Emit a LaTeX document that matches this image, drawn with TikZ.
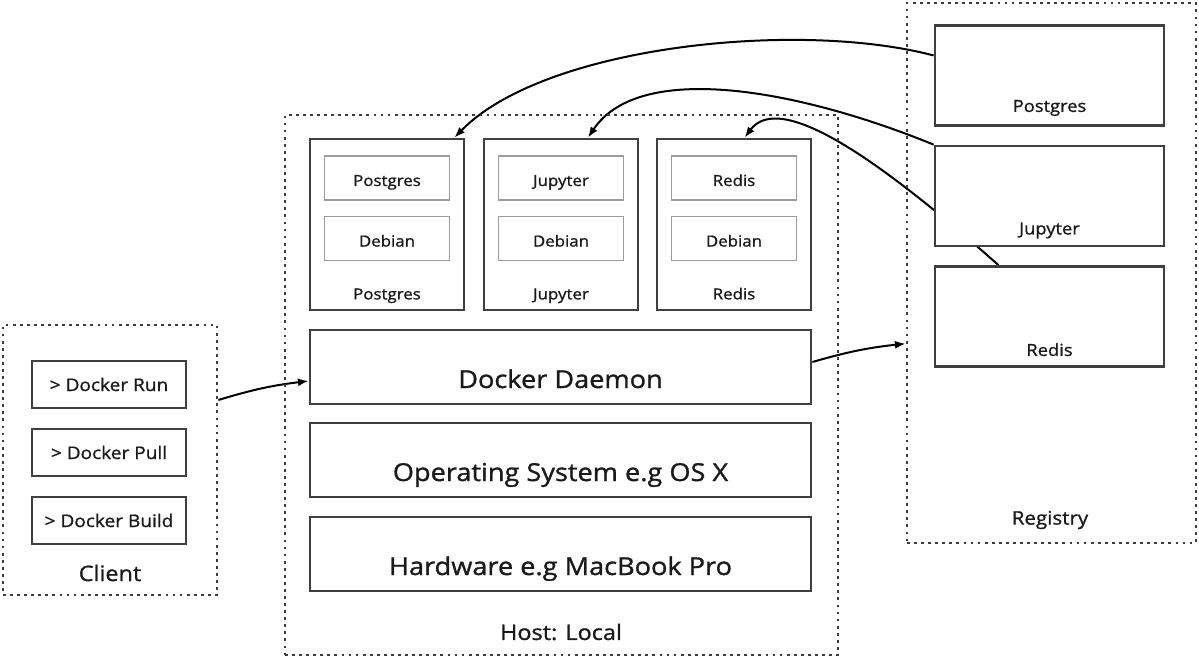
\documentclass[tikz,border=0pt]{standalone}
\usepackage{fontspec}
\setmainfont{Open Sans}[FakeStretch=1.1, FakeBold=1.1]
\usetikzlibrary{positioning,arrows.meta}
\definecolor{boxgray}{HTML}{404040}
\definecolor{ingray}{HTML}{9C9C9C}
\definecolor{dotgray}{HTML}{3C3C3C}
\definecolor{txt}{HTML}{1A1A1A}
\pgfdeclarelayer{bg}
\pgfsetlayers{bg,main}
\tikzset{
    dotbox/.style={draw=dotgray, line width=2.1pt, dash pattern=on 2.1pt off 3.2pt, inner sep=0},
    box/.style={draw=boxgray, line width=2.1pt, fill=white, inner sep=0, text=txt},
    inbox/.style={draw=ingray, line width=1.2pt, inner sep=0, text=txt,
        minimum width=93.75pt, minimum height=33pt, text height=12pt, text depth=0pt,
        font=\fontsize{11.5}{13}\selectfont},
    cmdbox/.style={box, minimum width=115.5pt, minimum height=35.25pt, font=\fontsize{13}{15}\selectfont},
    cbox/.style={box, minimum width=115.5pt, minimum height=128.25pt},
    layer/.style={box, minimum width=375.75pt, minimum height=55.5pt,
        text height=31.5pt, text depth=0pt, font=\fontsize{18.5}{21}\selectfont},
    regbox/.style={box, minimum width=171.75pt, minimum height=75pt},
    lbl/.style={text=txt, font=\fontsize{11.5}{13}\selectfont, inner sep=0, anchor=base},
    biglbl/.style={text=txt, font=\fontsize{16}{18}\selectfont, inner sep=0},
    flow/.style={->, line width=1.5pt}
}
\begin{document}
\begin{tikzpicture}[x=0.75pt,y=-0.75pt,>={Latex[length=8pt,width=6pt]}]
    \useasboundingbox (0,0) rectangle (1199,659);

    % client
    \node [dotbox, minimum width=160.5pt, minimum height=202.5pt] (client) at (110,460) {};
    \node [cmdbox] (run) at (109,384.5) {> Docker Run};
    \node [cmdbox, below of=run, node distance=51pt] (pull) {> Docker Pull};
    \node [cmdbox, below of=pull, node distance=51pt] (build) {> Docker Build};
    \node [biglbl] at (110,573) {Client};

    % host
    \node [dotbox, minimum width=414.75pt, minimum height=405pt] (host) at (561.5,385) {};
    \node [cbox] (pgc) at (387,224.5) {};
    \node [cbox, right of=pgc, node distance=130.5pt] (jupc) {};
    \node [cbox, right of=jupc, node distance=129.75pt] (redc) {};
    \node [inbox] (pgimg) at (387,178) {Postgres};
    \node [inbox, below of=pgimg, node distance=45.4pt] (pgos) {Debian};
    \node [inbox, right of=pgimg, node distance=130.5pt] (jupimg) {Jupyter};
    \node [inbox, below of=jupimg, node distance=45.4pt] (jupos) {Debian};
    \node [inbox, right of=jupimg, node distance=129.75pt] (redimg) {Redis};
    \node [inbox, below of=redimg, node distance=45.4pt] (redos) {Debian};
    \node [lbl] at ([yshift=9pt]pgc.south) {Postgres};
    \node [lbl] at ([yshift=9pt]jupc.south) {Jupyter};
    \node [lbl] at ([yshift=9pt]redc.south) {Redis};
    \node [layer] (daemon) at (560.5,367) {Docker Daemon};
    \node [layer, below of=daemon, node distance=69.75pt] (os) {Operating System e.g OS X};
    \node [layer, below of=os, node distance=70.5pt] (hw) {Hardware e.g MacBook Pro};
    \node [biglbl] at (561,632) {Host: Local};

    % registry
    \node [dotbox, minimum width=216.75pt, minimum height=405pt] (reg) at (1051.5,273) {};
    \node [regbox] (rpg) at (1049.5,75.5) {};
    \node [regbox, below of=rpg, node distance=90.4pt] (rjup) {};
    \node [regbox, below of=rjup, node distance=90.4pt] (rred) {};
    \node [lbl, font=\fontsize{12.5}{14}\selectfont] at ([yshift=11.25pt]rpg.south) {Postgres};
    \node [lbl, font=\fontsize{12.5}{14}\selectfont] at ([yshift=9.75pt]rjup.south) {Jupyter};
    \node [lbl, font=\fontsize{12.5}{14}\selectfont] at ([yshift=9pt]rred.south) {Redis};
    \node [biglbl, font=\fontsize{14}{16}\selectfont] at (1050,520) {Registry};

    % connections
    \begin{pgfonlayer}{bg}
    \draw [flow] ([yshift=45pt]client.east) to[bend left=5] ([yshift=-10.5pt]daemon.west);
    \draw [flow] ([yshift=3.75pt]daemon.east) to[bend left=5] ([yshift=-53pt]reg.west);
    \draw [flow] ([yshift=15pt]rpg.west) .. controls (800,20) and (545,45) .. ([xshift=-8.25pt]pgc.north east);
    \draw [flow] (rjup.north west) .. controls (800,90) and (640,60) .. ([xshift=20.25pt]jupc.north);
    \draw [flow] ([xshift=-38.25pt]rred.north) .. controls (880,160) and (780,90) .. ([xshift=8pt]redc.north);
    \end{pgfonlayer}
\end{tikzpicture}
\end{document}
